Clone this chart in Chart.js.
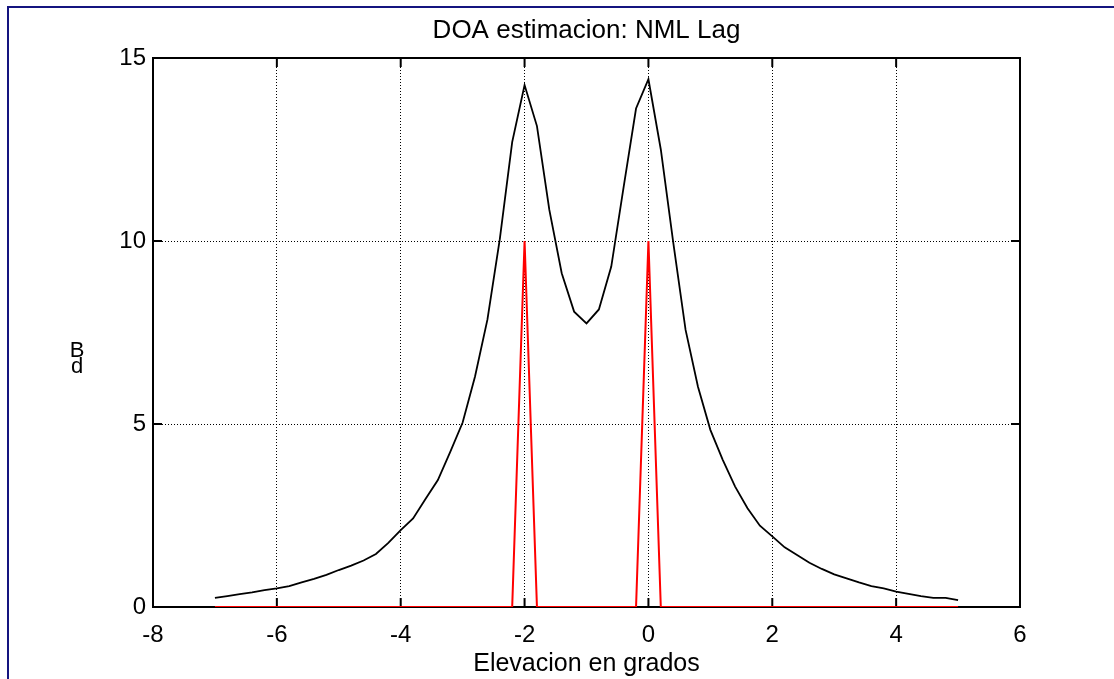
<!DOCTYPE html>
<html lang="es">
<head>
  <meta charset="utf-8">
  <title>DOA estimacion: NML Lag</title>
  <style>
    body { margin: 0; background: #fff; }
    #wrap { position: relative; width: 1114px; height: 679px; }
    #edge { position: absolute; left: 7px; top: 6px; right: 0; bottom: 0;
            border-top: 2px solid #14147f; border-left: 2px solid #14147f; pointer-events: none; }
  </style>
</head>
<body>
  <div id="wrap">
    <canvas id="doa" width="1114" height="679"></canvas>
    <div id="edge"></div>
  </div>

  <script src="https://cdn.jsdelivr.net/npm/chart.js@4.4.1/dist/chart.umd.min.js"></script>
  <script>
    // elevacion (grados)
    var elev = [-7, -6.8, -6.6, -6.4, -6.2, -6, -5.8, -5.6, -5.4, -5.2,
                -5, -4.8, -4.6, -4.4, -4.2, -4, -3.8, -3.6, -3.4, -3.2,
                -3, -2.8, -2.6, -2.4, -2.2, -2, -1.8, -1.6, -1.4, -1.2,
                -1, -0.8, -0.6, -0.4, -0.2, 0, 0.2, 0.4, 0.6, 0.8,
                1, 1.2, 1.4, 1.6, 1.8, 2, 2.2, 2.4, 2.6, 2.8,
                3, 3.2, 3.4, 3.6, 3.8, 4, 4.2, 4.4, 4.6, 4.8, 5];

    // espectro NML (dB)
    var nml = [0.25, 0.30, 0.35, 0.40, 0.46, 0.51, 0.57, 0.67, 0.77, 0.88,
               1.01, 1.13, 1.27, 1.45, 1.75, 2.10, 2.42, 2.95, 3.47, 4.24,
               5.04, 6.30, 7.85, 10.05, 12.70, 14.26, 13.14, 10.85, 9.12, 8.07,
               7.75, 8.13, 9.30, 11.48, 13.62, 14.42, 12.50, 9.97, 7.57, 6.02,
               4.84, 4.02, 3.29, 2.70, 2.22, 1.93, 1.63, 1.42, 1.21, 1.04,
               0.89, 0.78, 0.67, 0.57, 0.51, 0.42, 0.36, 0.30, 0.25, 0.25, 0.19];

    // direcciones reales
    var real = [0, 0, 0, 0, 0, 0, 0, 0, 0, 0,
                0, 0, 0, 0, 0, 0, 0, 0, 0, 0,
                0, 0, 0, 0, 0, 10, 0, 0, 0, 0,
                0, 0, 0, 0, 0, 10, 0, 0, 0, 0,
                0, 0, 0, 0, 0, 0, 0, 0, 0, 0,
                0, 0, 0, 0, 0, 0, 0, 0, 0, 0, 0];

    var xTicks = [-8, -6, -4, -2, 0, 2, 4, 6];
    var yTicks = [0, 5, 10, 15];

    var titulo = 'DOA estimacion: NML Lag';
    var xLabel = 'Elevacion en grados';
    var yLabel = 'dB';

    function pts(vals) {
      var out = [];
      for (var i = 0; i < elev.length; i++) out.push({ x: elev[i], y: vals[i] });
      return out;
    }

    var fontFam = '"Liberation Sans", Arial, Helvetica, sans-serif';

    var marco = {
      id: 'marco',
      beforeDatasetsDraw: function (chart) {
        var ctx = chart.ctx, a = chart.chartArea;
        var sx = chart.scales.x, sy = chart.scales.y;
        ctx.save();
        ctx.strokeStyle = '#000';
        ctx.lineWidth = 2;
        ctx.strokeRect(a.left, a.top, a.right - a.left, a.bottom - a.top);
        ctx.beginPath();
        sx.ticks.forEach(function (t) {
          var p = sx.getPixelForValue(t.value);
          ctx.moveTo(p, a.bottom); ctx.lineTo(p, a.bottom - 9);
          ctx.moveTo(p, a.top); ctx.lineTo(p, a.top + 9);
        });
        sy.ticks.forEach(function (t) {
          var p = sy.getPixelForValue(t.value);
          ctx.moveTo(a.left, p); ctx.lineTo(a.left + 9, p);
          ctx.moveTo(a.right, p); ctx.lineTo(a.right - 9, p);
        });
        ctx.stroke();
        ctx.restore();
      },
      afterDraw: function (chart) {
        var ctx = chart.ctx, a = chart.chartArea;
        ctx.save();
        ctx.fillStyle = '#000';
        ctx.textAlign = 'center';
        ctx.textBaseline = 'alphabetic';
        ctx.font = '26px ' + fontFam;
        ctx.fillText(titulo, (a.left + a.right) / 2, 38);
        // MATLAB dejó la etiqueta "dB" apilada: B arriba, d abajo
        ctx.font = '22px ' + fontFam;
        ctx.fillText(yLabel.charAt(1), a.left - 76, 357);
        ctx.fillText(yLabel.charAt(0), a.left - 76, 373);
        ctx.restore();
      }
    };

    new Chart(document.getElementById('doa').getContext('2d'), {
      type: 'line',
      data: {
        datasets: [
          {
            label: 'NML',
            data: pts(nml),
            borderColor: '#000000',
            backgroundColor: '#000000',
            borderWidth: 1.8,
            pointRadius: 0,
            tension: 0,
            fill: false,
            order: 1
          },
          {
            label: 'Real',
            data: pts(real),
            borderColor: '#ff0000',
            backgroundColor: '#ff0000',
            borderWidth: 2,
            pointRadius: 0,
            tension: 0,
            fill: false,
            order: 0
          }
        ]
      },
      options: {
        responsive: false,
        animation: false,
        devicePixelRatio: 1,
        layout: { padding: { top: 58, right: 94, left: 0, bottom: 0 } },
        plugins: {
          legend: { display: false },
          title: { display: false },
          tooltip: { enabled: false }
        },
        scales: {
          x: {
            type: 'linear',
            min: xTicks[0],
            max: xTicks[xTicks.length - 1],
            afterBuildTicks: function (s) { s.ticks = xTicks.map(function (v) { return { value: v }; }); },
            afterFit: function (s) { s.height = 72; },
            grid: { color: '#000', lineWidth: 1, drawTicks: false },
            border: { display: false, dash: [1, 2] },
            ticks: { color: '#000', padding: 14, font: { family: fontFam, size: 24 } },
            title: { display: true, text: xLabel, color: '#000', padding: { top: 0, bottom: 0 },
                     font: { family: fontFam, size: 25 } }
          },
          y: {
            type: 'linear',
            min: yTicks[0],
            max: yTicks[yTicks.length - 1],
            afterBuildTicks: function (s) { s.ticks = yTicks.map(function (v) { return { value: v }; }); },
            afterFit: function (s) { s.width = 153; },
            grid: { color: '#000', lineWidth: 1, drawTicks: false },
            border: { display: false, dash: [1, 2] },
            ticks: { color: '#000', padding: 7, font: { family: fontFam, size: 24 } }
          }
        }
      },
      plugins: [marco]
    });
  </script>
</body>
</html>
